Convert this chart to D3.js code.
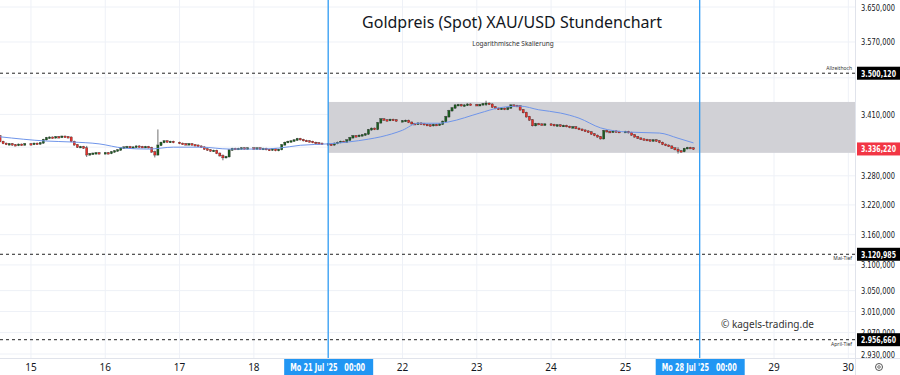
<!DOCTYPE html>
<html>
<head>
<meta charset="utf-8">
<script src="https://cdn.jsdelivr.net/npm/d3@7"></script>
<style>
  body { margin: 0; background: #fff; }
  svg { display: block; font-family: "Noto Sans", "DejaVu Sans", sans-serif; }
  .narrow { font-family: "Liberation Sans Narrow", "DejaVu Sans Condensed", sans-serif; }
</style>
</head>
<body>
<div id="chart"></div>
<script>
// trading days shown on the time axis (14 = partial first day)
var days = [14, 15, 16, 17, 18, 21, 22, 23, 24, 25, 28, 29, 30];
var dayStartHour = {14: 14};
var firstOpen = 3364;

// hourly closes per day (USD)
var jul14 = [3352, 3348, 3346, 3347, 3345, 3344, 3346, 3345, 3347];
var jul15 = [3346, 3348, 3347, 3349, 3356, 3360, 3361, 3360, 3362, 3361, 3363, 3362, 3361, 3352, 3345, 3340, 3341, 3338, 3324, 3326, 3327, 3328, 3327];
var jul16 = [3328, 3327, 3330, 3332, 3334, 3338, 3340, 3341, 3339, 3340, 3342, 3341, 3340, 3341, 3339, 3330, 3324, 3344, 3350, 3353, 3351, 3352, 3350];
var jul17 = [3348, 3347, 3346, 3347, 3345, 3344, 3342, 3340, 3336, 3334, 3332, 3333, 3327, 3322, 3318, 3320, 3334, 3337, 3336, 3337, 3338, 3337, 3338];
var jul18 = [3337, 3338, 3336, 3337, 3335, 3334, 3336, 3333, 3335, 3345, 3350, 3352, 3353, 3355, 3358, 3356, 3354, 3353, 3352, 3350, 3349, 3348, 3347];
var jul21 = [3346, 3345, 3348, 3350, 3352, 3351, 3355, 3360, 3364, 3363, 3365, 3366, 3368, 3377, 3380, 3378, 3392, 3400, 3398, 3397, 3399, 3398, 3396];
var jul22 = [3396, 3397, 3393, 3390, 3389, 3391, 3390, 3388, 3387, 3386, 3388, 3387, 3389, 3395, 3405, 3418, 3424, 3430, 3431, 3429, 3430, 3432, 3431];
var jul23 = [3430, 3431, 3433, 3434, 3432, 3426, 3423, 3422, 3423, 3421, 3424, 3430, 3429, 3428, 3420, 3414, 3405, 3398, 3386, 3390, 3389, 3388, 3389];
var jul24 = [3388, 3386, 3387, 3385, 3386, 3384, 3382, 3383, 3380, 3378, 3376, 3374, 3372, 3368, 3365, 3362, 3358, 3375, 3373, 3372, 3374, 3373, 3372];
var jul25 = [3373, 3371, 3366, 3362, 3359, 3357, 3356, 3355, 3354, 3355, 3353, 3350, 3346, 3344, 3342, 3338, 3335, 3332, 3331, 3337, 3339, 3338, 3336];
var closesByDay = {14: jul14, 15: jul15, 16: jul16, 17: jul17, 18: jul18, 21: jul21, 22: jul22, 23: jul23, 24: jul24, 25: jul25};

// wick extremes that stick out
var spikeDay  = [15, 16, 16, 17, 23, 25];
var spikeHour = [18, 16, 17, 14, 3, 17];
var spikeHigh = [3341, 3331, 3376, 3323, 3438, 3338];
var spikeLow  = [3321, 3320, 3326, 3314, 3430, 3328];

// moving average line samples
var maDay  = [14, 15, 15, 15, 16, 16, 16, 17, 17, 18, 18, 18, 21, 21, 21, 22, 22, 22, 22, 23, 23, 23, 23, 24, 24, 24, 25, 25, 25, 25];
var maHour = [14, 5, 13, 22, 6, 14, 22, 7, 16, 2, 8, 15, 0, 13, 17, 0, 5, 12, 15, 1, 7, 14, 20, 3, 9, 16, 1, 11, 17, 22];
var maVal  = [3362, 3353, 3351, 3347, 3338, 3336, 3340, 3340, 3336, 3336, 3338, 3344, 3347, 3357, 3362, 3376, 3391, 3391, 3394, 3413, 3424, 3428, 3420, 3413, 3402, 3381, 3372, 3370, 3359, 3349];

// price axis
var priceTicks = [3650, 3570, 3490, 3410, 3340, 3280, 3220, 3160, 3100, 3050, 3010, 2970, 2930];
var hiddenTicks = [3490, 3340];
var levelPrices = [3500.12, 3120.985, 2956.66];
var levelNames = ["Allzeithoch", "Mai-Tief", "April-Tief"];
var lastPrice = 3336.22;
var zoneLow = 3328, zoneHigh = 3437;
var zoneStartDay = 21;
var markerDays = [21, 28];
var markerLabels = ["Mo 21 Jul '25   00:00", "Mo 28 Jul '25   00:00"];

var width = 900, height = 375, plotW = 855, plotH = 358;

var svg = d3.select("#chart").append("svg")
	.attr("width", width)
	.attr("height", height);

var x = d3.scaleLinear().domain([0.5833, 12.09]).range([0, plotW]);
var y = d3.scaleLog().domain([2930, 3650]).range([354, 7]);
var pos = function(day, hour) { return days.indexOf(day) + hour / 24; };
var fmt = function(v, dec) {
	var s = v.toFixed(dec).split(".");
	return s[0].replace(/\B(?=(\d{3})+(?!\d))/g, ".") + "," + s[1];
};

// grid
svg.append("g").selectAll("line").data(days.slice(1))
	.enter().append("line")
	.attr("x1", function(d) { return x(pos(d, 0)); })
	.attr("x2", function(d) { return x(pos(d, 0)); })
	.attr("y1", 0).attr("y2", plotH)
	.attr("stroke", "#eef1f7");
svg.append("g").selectAll("line").data(priceTicks)
	.enter().append("line")
	.attr("x1", 0).attr("x2", plotW)
	.attr("y1", function(d) { return y(d); })
	.attr("y2", function(d) { return y(d); })
	.attr("stroke", "#eef1f7");

// grey zone
svg.append("rect")
	.attr("x", x(pos(zoneStartDay, 0)))
	.attr("y", y(zoneHigh))
	.attr("width", plotW - x(pos(zoneStartDay, 0)))
	.attr("height", y(zoneLow) - y(zoneHigh))
	.attr("fill", "#d1d1d6");

// title
svg.append("text").attr("x", 512).attr("y", 28)
	.attr("text-anchor", "middle").attr("font-size", 16).attr("fill", "#131722")
	.text("Goldpreis (Spot) XAU/USD Stundenchart");
svg.append("text").attr("x", 513).attr("y", 46)
	.attr("text-anchor", "middle").attr("font-size", 6.5).attr("fill", "#333")
	.text("Logarithmische Skalierung");

// candles
var candles = [], prev = firstOpen;
days.forEach(function(d) {
	var arr = closesByDay[d];
	if (!arr) return;
	var h0 = dayStartHour[d] || 0;
	arr.forEach(function(c, i) {
		var c0 = {day: d, hour: h0 + i, open: prev, close: c,
			high: Math.max(prev, c), low: Math.min(prev, c)};
		spikeDay.forEach(function(sd, k) {
			if (sd == d && spikeHour[k] == c0.hour) {
				c0.high = Math.max(c0.high, spikeHigh[k]);
				c0.low = Math.min(c0.low, spikeLow[k]);
			}
		});
		candles.push(c0);
		prev = c;
	});
});

var cg = svg.append("g");
cg.selectAll(".wick").data(candles)
	.enter().append("line")
	.attr("x1", function(d) { return x(pos(d.day, d.hour)); })
	.attr("x2", function(d) { return x(pos(d.day, d.hour)); })
	.attr("y1", function(d) { return y(d.high) - 0.8; })
	.attr("y2", function(d) { return y(d.low) + 0.8; })
	.attr("stroke", "#333")
	.attr("stroke-width", 0.7);
cg.selectAll(".body").data(candles)
	.enter().append("rect")
	.attr("x", function(d) { return x(pos(d.day, d.hour)) - 1.1; })
	.attr("y", function(d) { return y(Math.max(d.open, d.close)) - 0.3; })
	.attr("width", 2.2)
	.attr("height", function(d) { return Math.max(1.6, Math.abs(y(d.open) - y(d.close)) + 0.6); })
	.attr("fill", function(d) { return d.close >= d.open ? "#1b5e20" : "#e8302a"; })
	.attr("stroke", "#222")
	.attr("stroke-width", 0.3);

// moving average
var ma = maVal.map(function(v, i) { return {p: pos(maDay[i], maHour[i]), v: v}; });
svg.append("path").datum(ma)
	.attr("fill", "none")
	.attr("stroke", "#6f95ea")
	.attr("stroke-width", 1)
	.attr("d", d3.line().curve(d3.curveMonotoneX)
		.x(function(d) { return x(d.p); })
		.y(function(d) { return y(d.v); }));

// level lines
levelPrices.forEach(function(p, i) {
	svg.append("line")
		.attr("x1", 0).attr("x2", plotW)
		.attr("y1", y(p)).attr("y2", y(p))
		.attr("stroke", "#222").attr("stroke-dasharray", "3,3");
	svg.append("text")
		.attr("x", 852).attr("y", i == 0 ? y(p) - 3 : y(p) + 6)
		.attr("text-anchor", "end").attr("font-size", 5).attr("fill", "#333")
		.text(levelNames[i]);
});

// blue markers
markerDays.forEach(function(d) {
	svg.append("line")
		.attr("x1", x(pos(d, 0))).attr("x2", x(pos(d, 0)))
		.attr("y1", 0).attr("y2", plotH)
		.attr("stroke", "#2196f3").attr("stroke-width", 1.2);
});

// watermark
svg.append("text").attr("x", 721).attr("y", 328)
	.attr("font-size", 10).attr("fill", "#333")
	.text("© kagels-trading.de");

// axes borders
svg.append("rect").attr("x", plotW).attr("y", 0).attr("width", width - plotW).attr("height", height).attr("fill", "#fff");
svg.append("rect").attr("x", 0).attr("y", plotH).attr("width", width).attr("height", height - plotH).attr("fill", "#fff");
svg.append("line").attr("x1", plotW + 0.5).attr("x2", plotW + 0.5).attr("y1", 0).attr("y2", height).attr("stroke", "#e0e3eb");
svg.append("line").attr("x1", 0).attr("x2", width).attr("y1", plotH + 0.5).attr("y2", plotH + 0.5).attr("stroke", "#e0e3eb");

// price labels
svg.append("g").selectAll("text").data(priceTicks.filter(function(t) { return hiddenTicks.indexOf(t) < 0; }))
	.enter().append("text")
	.attr("class", "narrow")
	.attr("x", 861).attr("y", function(d) { return y(d) + 3.5; })
	.attr("font-size", 9.5).attr("fill", "#131722")
	.attr("textLength", 34).attr("lengthAdjust", "spacingAndGlyphs")
	.text(function(d) { return fmt(d, 3); });

var tags = levelPrices.map(function(p) { return {p: p, c: "#000"}; }).concat([{p: lastPrice, c: "#f23645"}]);
tags.forEach(function(t) {
	svg.append("rect").attr("x", 857).attr("y", y(t.p) - 6.5).attr("width", 43).attr("height", 13).attr("fill", t.c);
	svg.append("text").attr("class", "narrow").attr("x", 861).attr("y", y(t.p) + 3.5)
		.attr("font-size", 9.5).attr("font-weight", "bold").attr("fill", "#fff")
		.attr("textLength", 35).attr("lengthAdjust", "spacingAndGlyphs")
		.text(fmt(t.p, 3));
});

// time labels
svg.append("g").selectAll("text").data(days.filter(function(d) { return d != 14 && markerDays.indexOf(d) < 0; }))
	.enter().append("text")
	.attr("x", function(d) { return x(pos(d, 0)); })
	.attr("y", 371)
	.attr("text-anchor", "middle").attr("font-size", 10).attr("fill", "#131722")
	.text(function(d) { return d; });

markerDays.forEach(function(d, i) {
	var cx = x(pos(d, 0));
	svg.append("rect").attr("x", cx - 44).attr("y", plotH + 1).attr("width", 89).attr("height", height - plotH - 1).attr("fill", "#2196f3");
	svg.append("text").attr("class", "narrow").attr("x", cx - 38).attr("y", 371)
		.attr("font-size", 10).attr("font-weight", "bold").attr("fill", "#fff")
		.attr("xml:space", "preserve")
		.attr("textLength", 75).attr("lengthAdjust", "spacingAndGlyphs")
		.text(markerLabels[i]);
});

// settings icon
svg.append("circle").attr("cx", 879).attr("cy", 367).attr("r", 3.5).attr("fill", "none").attr("stroke", "#555").attr("stroke-width", 1);
svg.append("circle").attr("cx", 879).attr("cy", 367).attr("r", 1.3).attr("fill", "none").attr("stroke", "#555").attr("stroke-width", 0.8);
</script>
</body>
</html>
